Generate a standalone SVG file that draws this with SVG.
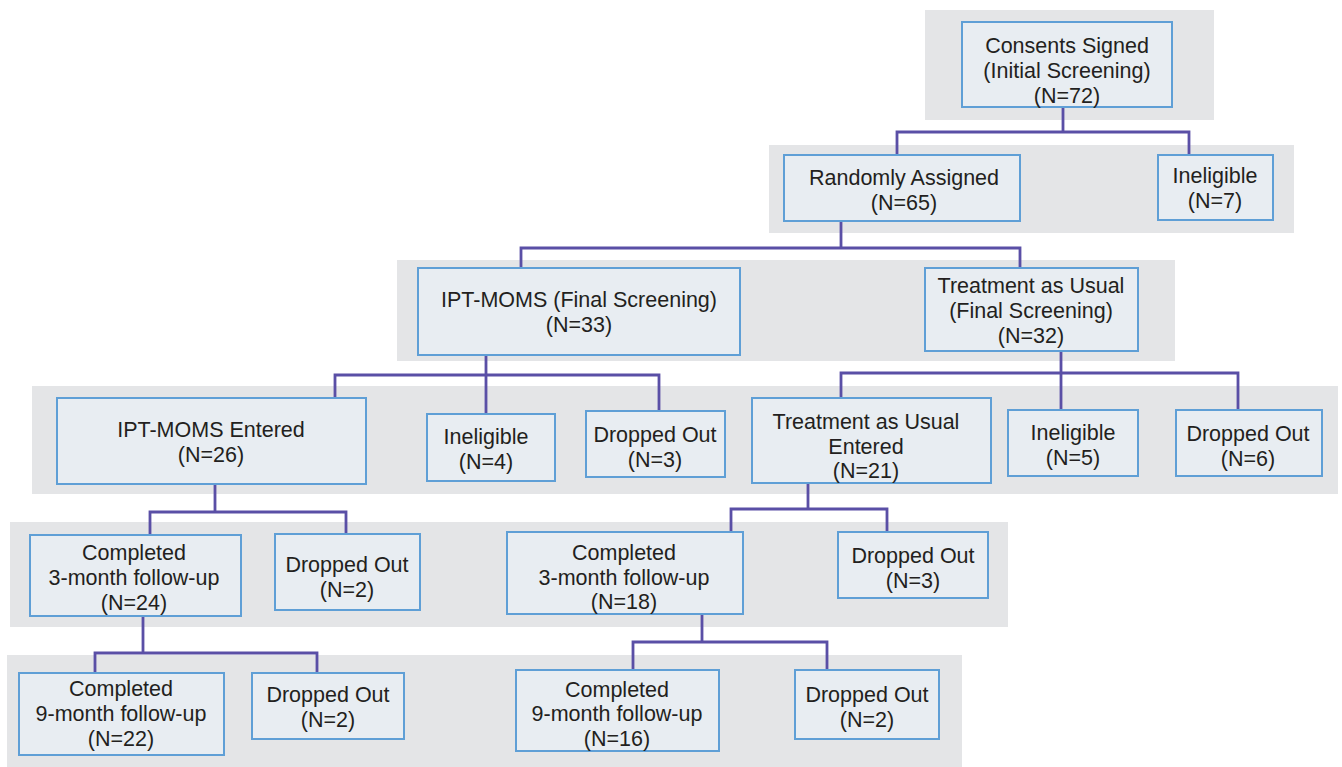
<svg xmlns="http://www.w3.org/2000/svg" width="1342" height="767" viewBox="0 0 1342 767">
<style>
.band{fill:#e4e5e7}
.box{fill:#e8edf2;stroke:#5f9fd6;stroke-width:2}
text{font-family:"Liberation Sans",Arial,sans-serif;font-size:21.5px;fill:#231f20;text-anchor:middle}
.con{fill:none;stroke:#5a4fa6;stroke-width:2.8}
</style>
<rect width="1342" height="767" fill="#ffffff"/>
<g id="bands">
<rect class="band" x="925" y="10" width="289" height="110"/>
<rect class="band" x="769" y="145" width="525" height="88"/>
<rect class="band" x="397" y="260" width="778" height="101"/>
<rect class="band" x="32" y="386" width="1306" height="108"/>
<rect class="band" x="10" y="522" width="998" height="105"/>
<rect class="band" x="7" y="655" width="955" height="112"/>
</g>
<g id="connectors">
<path class="con" d="M1063,107V132M897,155V132H1189V155"/>
<path class="con" d="M841,221V248M521,268V248H1020V268"/>
<path class="con" d="M486,355V414M335,398V375H659V411"/>
<path class="con" d="M1061,351V410M841,398V373H1238V410"/>
<path class="con" d="M215,484V512M150,535V512H346V534"/>
<path class="con" d="M808,483V509M731,532V509H887V532"/>
<path class="con" d="M143,616V653M95,673V653H317V673"/>
<path class="con" d="M702,614V642M633,670V642H827V670"/>
</g>
<g id="consents"><rect class="box" x="962" y="22" width="210" height="85"/><text x="1067" y="53">Consents Signed</text><text x="1067" y="78">(Initial Screening)</text><text x="1067" y="103">(N=72)</text></g>
<g id="randomly"><rect class="box" x="784" y="155" width="236" height="66"/><text x="904" y="185">Randomly Assigned</text><text x="904" y="210">(N=65)</text></g>
<g id="inelig7"><rect class="box" x="1158" y="155" width="115" height="65"/><text x="1215" y="183">Ineligible</text><text x="1215" y="208">(N=7)</text></g>
<g id="ipt-final"><rect class="box" x="418" y="268" width="322" height="87"/><text x="579" y="307">IPT-MOMS (Final Screening)</text><text x="579" y="332">(N=33)</text></g>
<g id="tau-final"><rect class="box" x="925" y="268" width="213" height="83"/><text x="1031" y="293">Treatment as Usual</text><text x="1031" y="318">(Final Screening)</text><text x="1031" y="343">(N=32)</text></g>
<g id="ipt-entered"><rect class="box" x="57" y="398" width="309" height="86"/><text x="211" y="437">IPT-MOMS Entered</text><text x="211" y="462">(N=26)</text></g>
<g id="inelig4"><rect class="box" x="427" y="414" width="128" height="67"/><text x="486" y="444">Ineligible</text><text x="486" y="469">(N=4)</text></g>
<g id="dropped3a"><rect class="box" x="586" y="411" width="139" height="66"/><text x="655" y="442">Dropped Out</text><text x="655" y="467">(N=3)</text></g>
<g id="tau-entered"><rect class="box" x="752" y="398" width="239" height="85"/><text x="866" y="429">Treatment as Usual</text><text x="866" y="454">Entered</text><text x="866" y="478">(N=21)</text></g>
<g id="inelig5"><rect class="box" x="1008" y="410" width="130" height="66"/><text x="1073" y="440">Ineligible</text><text x="1073" y="465">(N=5)</text></g>
<g id="dropped6"><rect class="box" x="1176" y="410" width="146" height="66"/><text x="1248" y="441">Dropped Out</text><text x="1248" y="466">(N=6)</text></g>
<g id="ipt-3m"><rect class="box" x="30" y="535" width="211" height="81"/><text x="134" y="560">Completed</text><text x="134" y="585">3-month follow-up</text><text x="134" y="610">(N=24)</text></g>
<g id="ipt-3m-drop"><rect class="box" x="275" y="534" width="145" height="76"/><text x="347" y="572">Dropped Out</text><text x="347" y="597">(N=2)</text></g>
<g id="tau-3m"><rect class="box" x="507" y="532" width="236" height="82"/><text x="624" y="560">Completed</text><text x="624" y="585">3-month follow-up</text><text x="624" y="609">(N=18)</text></g>
<g id="tau-3m-drop"><rect class="box" x="838" y="532" width="150" height="66"/><text x="913" y="563">Dropped Out</text><text x="913" y="588">(N=3)</text></g>
<g id="ipt-9m"><rect class="box" x="19" y="673" width="205" height="82"/><text x="121" y="696">Completed</text><text x="121" y="721">9-month follow-up</text><text x="121" y="746">(N=22)</text></g>
<g id="ipt-9m-drop"><rect class="box" x="252" y="673" width="152" height="66"/><text x="328" y="702">Dropped Out</text><text x="328" y="727">(N=2)</text></g>
<g id="tau-9m"><rect class="box" x="516" y="670" width="203" height="81"/><text x="617" y="697">Completed</text><text x="617" y="721">9-month follow-up</text><text x="617" y="746">(N=16)</text></g>
<g id="tau-9m-drop"><rect class="box" x="795" y="670" width="144" height="69"/><text x="867" y="702">Dropped Out</text><text x="867" y="727">(N=2)</text></g>
</svg>
